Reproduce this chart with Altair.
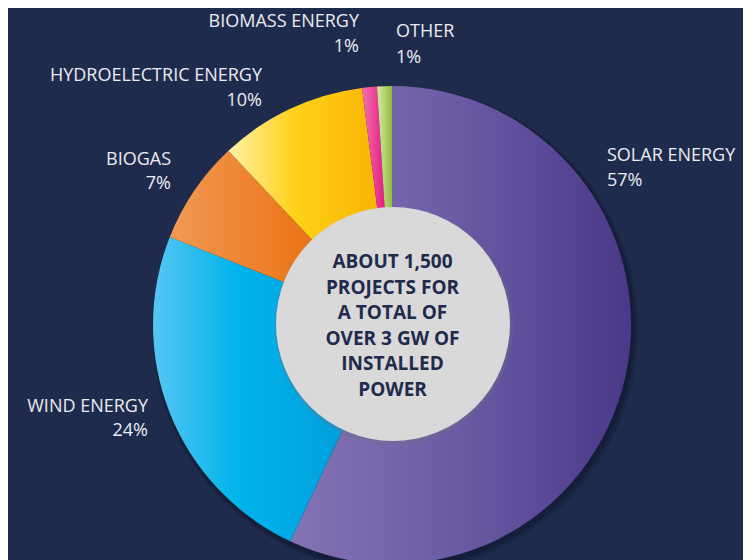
import math
import altair as alt
import pandas as pd

# ---- data ----
categories = ["SOLAR ENERGY", "WIND ENERGY", "BIOGAS", "HYDROELECTRIC ENERGY", "BIOMASS ENERGY", "OTHER"]
shares = [57, 24, 7, 10, 1, 1]
center_lines = ["ABOUT 1,500", "PROJECTS FOR", "A TOTAL OF", "OVER 3 GW OF", "INSTALLED", "POWER"]

# ---- styles / layout ----
BG = "#1f2b4c"
TEXT_LIGHT = "#ececf2"
FONT = "Open Sans"
CX, CY, R = 384, 317, 239
ICX, ICY, IR = 385, 316, 117

gradients = {
    "SOLAR ENERGY": [("#8474b4", 0), ("#6a5aa5", 0.5), ("#4a3888", 1)],
    "WIND ENERGY": [("#56c6f2", 0), ("#00b4ec", 0.35), ("#0095d6", 1)],
    "BIOGAS": [("#f19a55", 0), ("#ec7418", 0.6), ("#e86a08", 1)],
    "HYDROELECTRIC ENERGY": [("#fff0a8", 0), ("#ffd21a", 0.4), ("#f8b000", 1)],
    "BIOMASS ENERGY": [("#f272ac", 0), ("#e2007a", 1)],
    "OTHER": [("#dbe9a6", 0), ("#8dbe3c", 1)],
}

label_layout = {
    "SOLAR ENERGY": (599, "left", 153, 178),
    "WIND ENERGY": (140, "right", 404, 428),
    "BIOGAS": (163, "right", 157, 181),
    "HYDROELECTRIC ENERGY": (254, "right", 73, 98),
    "BIOMASS ENERGY": (351, "right", 19, 44),
    "OTHER": (388, "left", 29, 55),
}

df = pd.DataFrame({"cat": categories, "share": shares, "order": list(range(len(categories)))})
one = pd.DataFrame({"k": [0]})

theta_scale = alt.Scale(domain=[0, 100], range=[0, 2 * math.pi])

base = (
    alt.Chart(df)
    .transform_window(cum="sum(share)", sort=[alt.SortField("order")])
    .transform_calculate(start="datum.cum - datum.share", pct="datum.share + '%'")
)

layers = []

# soft shadow behind the pie
for dx, dy, rr, op in [(3, 4, 243, 0.25), (2, 3, 241, 0.35)]:
    layers.append(
        alt.Chart(one)
        .mark_arc(theta=0, theta2=2 * math.pi, radius=rr, x=CX + dx, y=CY + dy, color="#0b1228")
        .encode(opacity=alt.value(op))
    )

# slices
for cat in categories:
    stops = [alt.GradientStop(color=c, offset=o) for c, o in gradients[cat]]
    grad = alt.LinearGradient(gradient="linear", stops=stops, x1=0, x2=1, y1=0, y2=0)
    layers.append(
        base.transform_filter(alt.datum.cat == cat)
        .mark_arc(radius=R, x=CX, y=CY, color=grad)
        .encode(
            theta=alt.Theta("start:Q", scale=theta_scale),
            theta2="cum:Q",
        )
    )

# inner disc with faint shadow
layers.append(
    alt.Chart(one)
    .mark_arc(theta=0, theta2=2 * math.pi, radius=IR + 2, x=ICX + 1, y=ICY + 2, color="#6d6f80")
    .encode(opacity=alt.value(0.35))
)
layers.append(
    alt.Chart(one)
    .mark_arc(theta=0, theta2=2 * math.pi, radius=IR, x=ICX, y=ICY, color="#d9d9d9")
    .encode(opacity=alt.value(1))
)

# centre text
layers.append(
    alt.Chart(one)
    .mark_text(
        text=center_lines, x=384.5, y=260, align="center", baseline="alphabetic",
        lineHeight=25.6, font=FONT, fontSize=19, fontWeight="bold", color=BG,
    )
    .encode(opacity=alt.value(1))
)

# slice labels
for cat in categories:
    lx, al, y1, y2 = label_layout[cat]
    sel = base.transform_filter(alt.datum.cat == cat)
    layers.append(
        sel.mark_text(x=lx, y=y1, align=al, baseline="alphabetic", font=FONT, fontSize=18, color=TEXT_LIGHT)
        .encode(text="cat:N")
    )
    layers.append(
        sel.mark_text(x=lx, y=y2, align=al, baseline="alphabetic", font=FONT, fontSize=18, color=TEXT_LIGHT)
        .encode(text="pct:N")
    )

chart = (
    alt.layer(*layers)
    .properties(width=735, height=552, background=BG, padding=0, autosize=alt.AutoSizeParams(type="none"))
    .configure_view(stroke=None)
)

chart.save("out.html", embed_options={"renderer": "svg", "actions": False})
